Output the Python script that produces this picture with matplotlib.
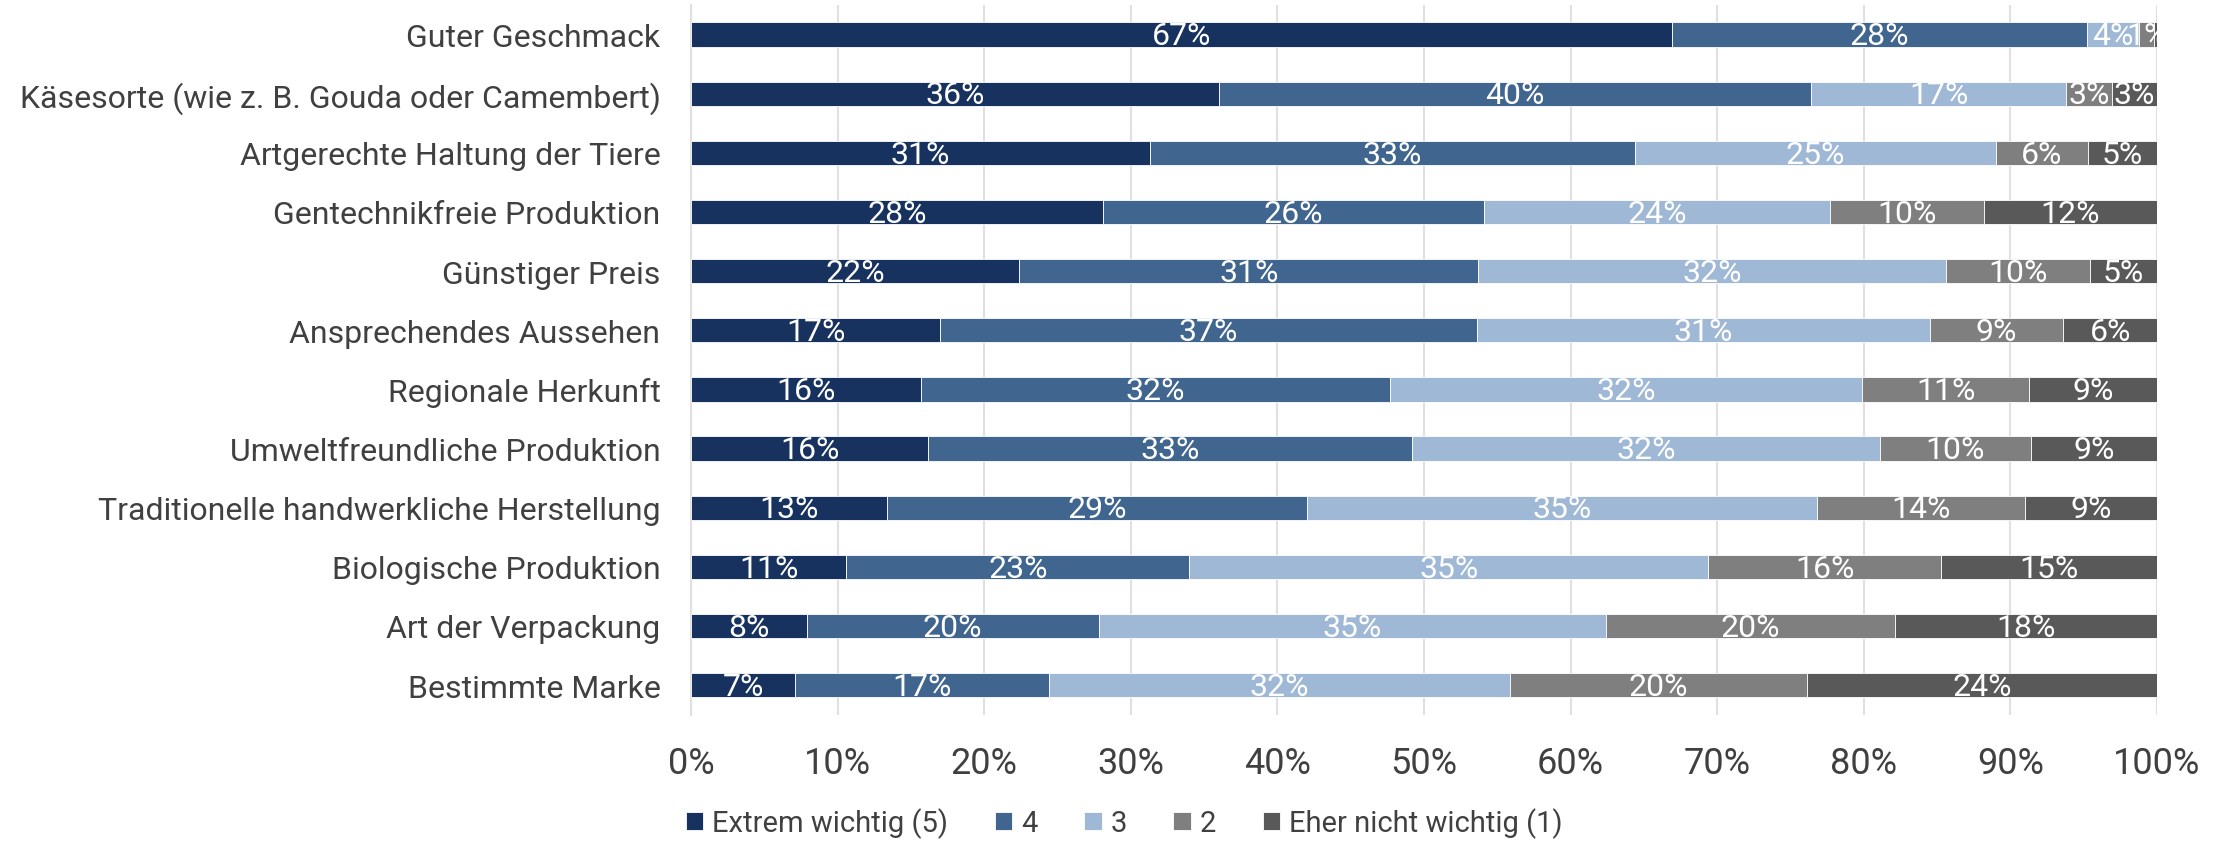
import matplotlib.pyplot as plt
import numpy as np

plt.rcParams['font.family'] = ['Roboto', 'DejaVu Sans']

# Anteile je Kriterium (Prozent), Reihenfolge von oben nach unten
kriterien = [
    'Guter Geschmack',
    'Käsesorte (wie z. B. Gouda oder Camembert)',
    'Artgerechte Haltung der Tiere',
    'Gentechnikfreie Produktion',
    'Günstiger Preis',
    'Ansprechendes Aussehen',
    'Regionale Herkunft',
    'Umweltfreundliche Produktion',
    'Traditionelle handwerkliche Herstellung',
    'Biologische Produktion',
    'Art der Verpackung',
    'Bestimmte Marke',
]
extrem_wichtig = [66.9, 36.0, 31.3, 28.1, 22.4, 17.0, 15.7, 16.2, 13.4, 10.6, 7.9, 7.1]
stufe_4 = [28.3, 40.4, 33.1, 26.0, 31.3, 36.6, 32.0, 33.0, 28.6, 23.4, 19.9, 17.3]
stufe_3 = [3.6, 17.4, 24.6, 23.6, 31.9, 30.9, 32.2, 31.9, 34.8, 35.4, 34.6, 31.5]
stufe_2 = [1.0, 3.1, 6.3, 10.5, 9.8, 9.1, 11.4, 10.3, 14.2, 15.9, 19.7, 20.2]
eher_nicht = [0.2, 3.1, 4.7, 11.8, 4.6, 6.4, 8.7, 8.6, 9.0, 14.7, 17.9, 23.9]

serien = [extrem_wichtig, stufe_4, stufe_3, stufe_2, eher_nicht]
namen = ['Extrem wichtig (5)', '4', '3', '2', 'Eher nicht wichtig (1)']
farben = ['#17325f', '#40658f', '#9fb8d5', '#7f7f7f', '#595959']

fig = plt.figure(figsize=(22.26, 8.45), dpi=100)
ax = fig.add_axes([0.3104, 0.153, 0.6586, 0.840])

y = np.arange(len(kriterien))
links = np.zeros(len(kriterien))
for werte, name, farbe in zip(serien, namen, farben):
    werte = np.array(werte)
    bars = ax.barh(y, werte, left=links, height=0.41, color=farbe,
                   edgecolor='white', linewidth=0.6, label=name, zorder=3)
    for b, w in zip(bars, werte):
        if w < 0.5:
            continue
        ax.text(b.get_x() + w / 2, b.get_y() + b.get_height() * 0.55,
                f'{w:.0f}%', ha='center', va='center', color='white',
                fontsize=23, zorder=4)
    links += werte

ax.set_ylim(len(kriterien) - 0.5, -0.5)
ax.set_xlim(0, 100)
ax.set_yticks(y)
ax.set_yticklabels(kriterien, fontsize=23, color='#404040')
ax.set_xticks(np.arange(0, 101, 10))
ax.set_xticklabels([f'{v}%' for v in range(0, 101, 10)], fontsize=26, color='#404040')
ax.tick_params(axis='both', length=0)
ax.tick_params(axis='x', pad=22)
ax.tick_params(axis='y', pad=22)
ax.grid(axis='x', color='#e0e0e0', linewidth=1.5, zorder=0)
for s in ['top', 'right', 'bottom']:
    ax.spines[s].set_visible(False)
ax.spines['left'].set_color('#e0e0e0')
ax.spines['left'].set_linewidth(1.5)

fig.legend(loc='center', bbox_to_anchor=(0.505, 0.025), ncol=5, frameon=False,
           fontsize=21, handlelength=0.6, handleheight=0.6, handletextpad=0.3,
           columnspacing=1.6, labelcolor='#404040')

fig.savefig('out.png', dpi=100)
